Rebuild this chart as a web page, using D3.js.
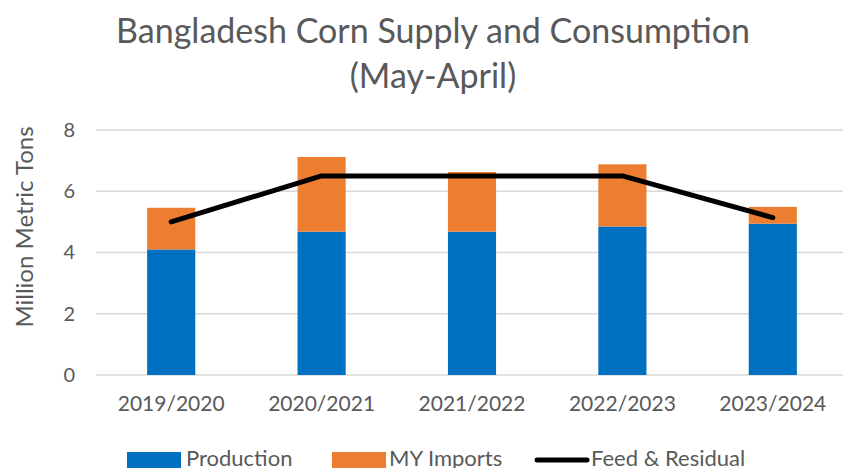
<html>
<head>
	<meta charset="utf-8">
	<script src="https://cdn.jsdelivr.net/npm/d3@7"></script>
	<style>
		body { margin: 0; background: white; }
		text { font-family: Lato, "Open Sans", sans-serif; fill: #595959; }
	</style>
</head>
<body>
	<div id="output"></div>
	<script>
		// chart data
		var years = ["2019/2020", "2020/2021", "2021/2022", "2022/2023", "2023/2024"];
		var production = [4.1, 4.68, 4.68, 4.85, 4.94];
		var imports = [1.36, 2.44, 1.95, 2.03, 0.55];
		var feed = [5.0, 6.5, 6.5, 6.5, 5.14];
		var yTicks = [0, 2, 4, 6, 8];

		var width = 843, height = 468;
		var svg = d3.select("#output")
			.append("svg")
			.attr("width", width)
			.attr("height", height);

		var x = d3.scaleBand()
			.domain(years)
			.range([96, 848])
			.paddingInner(0.68)
			.paddingOuter(0.34);
		var y = d3.scaleLinear()
			.domain([0, 8])
			.range([375, 130]);

		// gridlines
		svg.selectAll(".grid")
			.data(yTicks)
			.enter().append("line")
			.attr("x1", 96)
			.attr("x2", 843)
			.attr("y1", function(d){ return y(d); })
			.attr("y2", function(d){ return y(d); })
			.style("stroke", "#d9d9d9")
			.style("stroke-width", 1.3);

		// y axis labels
		var yAxis = d3.axisLeft(y).tickValues(yTicks).tickSize(0).tickPadding(0);
		var gy = svg.append("g").attr("transform", "translate(75,0)").call(yAxis);
		gy.select(".domain").remove();
		gy.selectAll("text")
			.style("font-size", "20px")
			.style("font-family", "Lato, sans-serif")
			.attr("fill", "#595959");

		// x axis labels
		var xAxis = d3.axisBottom(x).tickSize(0).tickPadding(0);
		var gx = svg.append("g").attr("transform", "translate(0,396)").call(xAxis);
		gx.select(".domain").remove();
		gx.selectAll("text")
			.style("font-size", "21px")
			.style("font-family", "Lato, sans-serif")
			.attr("fill", "#595959");

		// stacked bars
		svg.selectAll(".prod")
			.data(years)
			.enter().append("rect")
			.attr("x", function(d){ return x(d); })
			.attr("width", x.bandwidth())
			.attr("y", function(d, i){ return y(production[i]); })
			.attr("height", function(d, i){ return y(0) - y(production[i]); })
			.attr("fill", "#0070c0");
		svg.selectAll(".imp")
			.data(years)
			.enter().append("rect")
			.attr("x", function(d){ return x(d); })
			.attr("width", x.bandwidth())
			.attr("y", function(d, i){ return y(production[i] + imports[i]); })
			.attr("height", function(d, i){ return y(production[i]) - y(production[i] + imports[i]); })
			.attr("fill", "#ed7d31");

		// feed line
		var line = d3.line()
			.x(function(d, i){ return x(years[i]) + x.bandwidth() / 2; })
			.y(function(d){ return y(d); });
		svg.append("path")
			.datum(feed)
			.attr("d", line)
			.attr("fill", "none")
			.attr("stroke", "black")
			.attr("stroke-width", 5)
			.attr("stroke-linecap", "round")
			.attr("stroke-linejoin", "round");

		// title
		svg.append("text")
			.attr("x", 433)
			.attr("y", 43)
			.style("font-size", "34px")
			.style("text-anchor", "middle")
			.text("Bangladesh Corn Supply and Consumption");
		svg.append("text")
			.attr("x", 433)
			.attr("y", 88)
			.style("font-size", "34px")
			.style("text-anchor", "middle")
			.text("(May-April)");

		// y axis title
		svg.append("text")
			.attr("transform", "translate(33,227) rotate(-90)")
			.style("font-size", "24px")
			.style("text-anchor", "middle")
			.text("Million Metric Tons");

		// legend
		var legend = svg.append("g");
		legend.append("rect").attr("x", 127).attr("y", 452).attr("width", 54).attr("height", 16).attr("fill", "#0070c0");
		legend.append("text").attr("x", 186).attr("y", 466).style("font-size", "22px").text("Production");
		legend.append("rect").attr("x", 332).attr("y", 452).attr("width", 54).attr("height", 16).attr("fill", "#ed7d31");
		legend.append("text").attr("x", 389).attr("y", 466).style("font-size", "22px").text("MY Imports");
		legend.append("line").attr("x1", 537).attr("x2", 587).attr("y1", 460).attr("y2", 460)
			.attr("stroke", "black").attr("stroke-width", 5).attr("stroke-linecap", "round");
		legend.append("text").attr("x", 591).attr("y", 466).style("font-size", "22px").text("Feed & Residual");
	</script>
</body>
</html>
